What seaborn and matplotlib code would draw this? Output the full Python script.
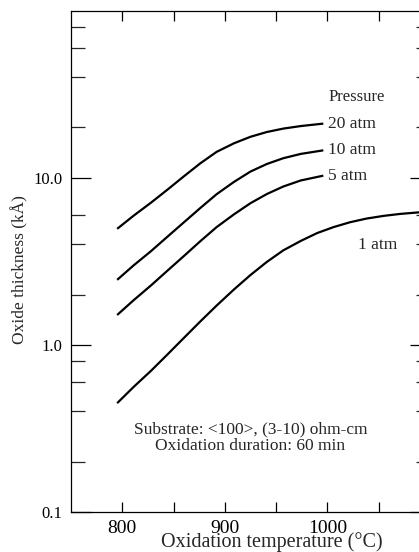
import matplotlib
matplotlib.use("Agg")
import matplotlib.pyplot as plt
import seaborn as sns
import pandas as pd

# ---- data ----
temps_hi = [795, 811, 828, 844, 860, 876, 892, 909, 925, 941, 957, 974, 996]
thick_20 = [4.95, 5.93, 7.10, 8.49, 10.2, 12.2, 14.3, 16.1, 17.6, 18.8, 19.7, 20.4, 21.1]
thick_10 = [2.45, 2.99, 3.64, 4.44, 5.41, 6.59, 7.98, 9.46, 10.9, 12.1, 13.1, 13.9, 14.6]
thick_5 = [1.51, 1.85, 2.27, 2.78, 3.40, 4.17, 5.07, 6.05, 7.05, 8.00, 8.87, 9.64, 10.3]

temps_1 = [795, 811, 828, 844, 860, 876, 892, 909, 925, 941, 957, 974, 990,
           1006, 1022, 1038, 1055, 1071, 1089, 1100]
thick_1 = [0.448, 0.560, 0.700, 0.876, 1.10, 1.38, 1.72, 2.15, 2.62, 3.14, 3.68,
           4.19, 4.67, 5.07, 5.42, 5.70, 5.92, 6.08, 6.21, 6.27]

pressures = ["20 atm", "10 atm", "5 atm", "1 atm"]
x_ticks = [800, 850, 900, 950, 1000, 1050]
x_tick_labels = ["800", "", "900", "", "1000", ""]
y_ticks = [0.1, 1, 10]
y_tick_labels = ["0.1", "1.0", "10.0"]
y_minor_ticks = [0.2, 0.4, 0.6, 0.8, 2, 4, 6, 20, 40, 60, 80]

frames = []
for name, t, v in zip(pressures,
                      [temps_hi, temps_hi, temps_hi, temps_1],
                      [thick_20, thick_10, thick_5, thick_1]):
    frames.append(pd.DataFrame({"temperature": t, "thickness": v, "pressure": name}))
df = pd.concat(frames, ignore_index=True)

sns.set_style("ticks")
plt.rcParams["font.family"] = ["Liberation Serif", "DejaVu Serif"]

fig = plt.figure(figsize=(4.19, 5.52), dpi=100)
ax = fig.add_axes([71 / 419, 40 / 552, 359 / 419, 501.3 / 552])

sns.lineplot(data=df, x="temperature", y="thickness", hue="pressure",
             palette={p: "black" for p in pressures}, legend=False,
             sort=False, estimator=None, linewidth=1.6, ax=ax)
for line in ax.get_lines():
    line.set_solid_joinstyle("round")
    line.set_solid_capstyle("butt")

ax.set_yscale("log")
ax.set_xlim(750, 1100)
ax.set_ylim(0.1, 100)

ax.set_xticks(x_ticks)
ax.set_xticklabels(x_tick_labels)
ax.xaxis.set_minor_locator(matplotlib.ticker.NullLocator())
ax.set_yticks(y_ticks)
ax.set_yticklabels(y_tick_labels)
ax.set_yticks(y_minor_ticks, minor=True)
ax.set_yticklabels([""] * len(y_minor_ticks), minor=True)

for s in ax.spines.values():
    s.set_linewidth(0.9)
    s.set_color("black")

ax.tick_params(axis="x", which="major", direction="in", length=7, width=0.9,
               top=True, pad=6, labelsize=14, colors="black")
ax.tick_params(axis="y", which="major", direction="in", length=14.4, width=0.9,
               right=True, pad=6, labelsize=12, colors="black")
ax.tick_params(axis="y", which="minor", direction="in", length=10, width=0.9,
               right=True)

ax.set_xlabel("Oxidation temperature (°C)", fontsize=14.5)
ax.xaxis.label.set_verticalalignment("baseline")
ax.xaxis.set_label_coords((272 - 71) / 359, -(547 - 512) / 501.3)
ax.set_ylabel("Oxide thickness (kÅ)", fontsize=12.5)
ax.yaxis.set_label_coords(-(71 - 28) / 359, (512 - 270) / 501.3)

ax.text(1000.7, 30.5, "Pressure", fontsize=12, ha="left", va="center")
ax.text(1001, 21.1, "20 atm", fontsize=12.5, ha="left", va="center")
ax.text(1001, 14.6, "10 atm", fontsize=12.5, ha="left", va="center")
ax.text(1001, 10.3, "5 atm", fontsize=12.5, ha="left", va="center")
ax.text(1029.8, 3.97, "1 atm", fontsize=12.5, ha="left", va="center")

ax.text(0.5, (512 - 429) / 501.3, "Substrate: <100>, (3-10) ohm-cm",
        transform=ax.transAxes, fontsize=12.5, ha="center", va="center")
ax.text(0.5, (512 - 446.5) / 501.3, "Oxidation duration: 60 min",
        transform=ax.transAxes, fontsize=12.5, ha="center", va="center")

fig.savefig("out.png", dpi=100)
